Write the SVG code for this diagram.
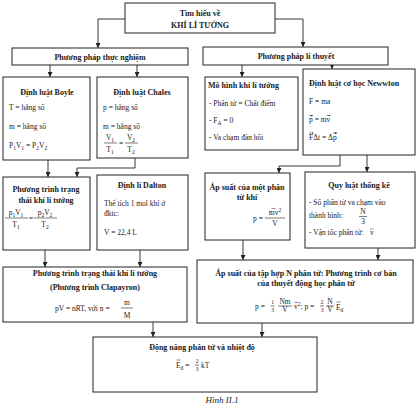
<svg xmlns="http://www.w3.org/2000/svg" width="420" height="407" viewBox="0 0 420 407">
<defs>
<style>
text{font-family:"Liberation Serif","DejaVu Serif",serif;fill:#1a1a1a;font-size:7.5px}
.t{font-weight:bold;font-size:8px}
.c{text-anchor:middle}
.b{fill:#fff;stroke:#222;stroke-width:1}
.cn{fill:none;stroke:#222;stroke-width:0.9}
.bar{stroke:#222;stroke-width:0.6}
.ov{stroke:#222;stroke-width:0.5;fill:none}
.s{font-size:5.5px}
</style>
<marker id="ah" viewBox="0 0 6 6" refX="6" refY="3" markerWidth="5" markerHeight="5" orient="auto" markerUnits="userSpaceOnUse">
<path d="M0,0 L6,3 L0,6 z" fill="#222"/>
</marker>
<marker id="va" viewBox="0 0 4 4" refX="4" refY="2" markerWidth="2" markerHeight="2" orient="auto" markerUnits="userSpaceOnUse">
<path d="M0,0 L4,2 L0,4 z" fill="#222"/>
</marker>
</defs>
<rect width="420" height="407" fill="#fff"/>

<g id="connectors">
<polyline class="cn" points="125,19 98,19 98,48" marker-end="url(#ah)"/>
<polyline class="cn" points="275,19 303,19 303,47" marker-end="url(#ah)"/>
<line class="cn" x1="50" y1="65" x2="50" y2="77" marker-end="url(#ah)"/>
<line class="cn" x1="137" y1="65" x2="137" y2="77" marker-end="url(#ah)"/>
<line class="cn" x1="242" y1="65" x2="242" y2="77" marker-end="url(#ah)"/>
<line class="cn" x1="332" y1="65" x2="332" y2="69" marker-end="url(#ah)"/>
<line class="cn" x1="48" y1="160" x2="48" y2="177" marker-end="url(#ah)"/>
<polyline class="cn" points="135,158 135,168 77,168 77,177" marker-end="url(#ah)"/>
<polyline class="cn" points="340,155 340,166 279,166 279,173" marker-end="url(#ah)"/>
<line class="cn" x1="367" y1="155" x2="367" y2="172" marker-end="url(#ah)"/>
<line class="cn" x1="45" y1="250" x2="45" y2="267" marker-end="url(#ah)"/>
<line class="cn" x1="140" y1="250" x2="140" y2="267" marker-end="url(#ah)"/>
<line class="cn" x1="243" y1="240" x2="243" y2="260" marker-end="url(#ah)"/>
<line class="cn" x1="378" y1="248" x2="378" y2="260" marker-end="url(#ah)"/>
<line class="cn" x1="153" y1="322" x2="153" y2="337" marker-end="url(#ah)"/>
<line class="cn" x1="262" y1="323" x2="262" y2="337" marker-end="url(#ah)"/>
</g>

<g id="title">
<rect class="b" x="125" y="3" width="150" height="30"/>
<text class="t c" x="200" y="16">Tìm hiểu về</text>
<text class="t c" x="200" y="28">KHÍ LÍ TƯỞNG</text>
</g>

<g id="thucnghiem">
<rect class="b" x="12" y="48" width="176" height="17"/>
<text class="t c" x="100" y="59.5">Phương pháp thực nghiệm</text>
</g>

<g id="lithuyet">
<rect class="b" x="203" y="47" width="185" height="18"/>
<text class="t c" x="296" y="59">Phương pháp lí thuyết</text>
</g>

<g id="boyle">
<rect class="b" x="3" y="77" width="87" height="83"/>
<text class="t c" x="47" y="95">Định luật Boyle</text>
<text x="9" y="110">T = hằng số</text>
<text x="9" y="129">m = hằng số</text>
<text x="9" y="148">P<tspan class="s" dy="1.5">1</tspan><tspan dy="-1.5">V</tspan><tspan class="s" dy="1.5">1</tspan><tspan dy="-1.5"> = P</tspan><tspan class="s" dy="1.5">2</tspan><tspan dy="-1.5">V</tspan><tspan class="s" dy="1.5">2</tspan></text>
</g>

<g id="charles">
<rect class="b" x="97" y="77" width="91" height="81"/>
<text class="t c" x="142" y="95">Định luật Chales</text>
<text x="103" y="110">p = hằng số</text>
<text x="103" y="129">m = hằng số</text>
<text class="c" x="110" y="140">V<tspan class="s" dy="1.5">1</tspan></text>
<line class="bar" x1="104" y1="143" x2="117" y2="143"/>
<text class="c" x="110" y="152">T<tspan class="s" dy="1.5">1</tspan></text>
<text class="c" x="121" y="146">=</text>
<text class="c" x="131" y="140">V<tspan class="s" dy="1.5">2</tspan></text>
<line class="bar" x1="125" y1="143" x2="138" y2="143"/>
<text class="c" x="131" y="152">T<tspan class="s" dy="1.5">2</tspan></text>
</g>

<g id="mohinh">
<rect class="b" x="205" y="77" width="93" height="73"/>
<text class="t" x="208" y="88">Mô hình khí lí tưởng</text>
<text x="209" y="106">- Phân tử  = Chất điểm</text>
<text x="209" y="123">- F<tspan class="s" dy="1.5">A</tspan><tspan dy="-1.5"> = 0</tspan></text>
<text x="209" y="140">- Va chạm đàn hồi</text>
</g>

<g id="newton">
<rect class="b" x="303" y="69" width="112" height="86"/>
<text class="t" x="309" y="86">Định luật cơ học Newwton</text>
<text x="309" y="104">F = ma</text>
<text x="309" y="122">p = mv</text>
<line class="ov" x1="309" y1="115.5" x2="313" y2="115.5" marker-end="url(#va)"/>
<line class="ov" x1="326.5" y1="115.5" x2="330.5" y2="115.5" marker-end="url(#va)"/>
<text x="309" y="140">FΔt = Δp</text>
<line class="ov" x1="309" y1="133" x2="313.5" y2="133" marker-end="url(#va)"/>
<line class="ov" x1="332.5" y1="133" x2="337" y2="133" marker-end="url(#va)"/>
</g>

<g id="pttrangthai">
<rect class="b" x="3" y="177" width="87" height="73"/>
<text class="t c" x="46" y="192">Phương trình trạng</text>
<text class="t c" x="46" y="203">thái khí lí tưởng</text>
<text class="c" x="16" y="215">p<tspan class="s" dy="1.5">1</tspan><tspan dy="-1.5">V</tspan><tspan class="s" dy="1.5">1</tspan></text>
<line class="bar" x1="5" y1="218" x2="28" y2="218"/>
<text class="c" x="16" y="227">T<tspan class="s" dy="1.5">1</tspan></text>
<text class="c" x="31" y="221">=</text>
<text class="c" x="45" y="215">p<tspan class="s" dy="1.5">2</tspan><tspan dy="-1.5">V</tspan><tspan class="s" dy="1.5">2</tspan></text>
<line class="bar" x1="34" y1="218" x2="57" y2="218"/>
<text class="c" x="45" y="227">T<tspan class="s" dy="1.5">2</tspan></text>
</g>

<g id="dalton">
<rect class="b" x="97" y="175" width="91" height="75"/>
<text class="t c" x="142" y="188">Định lí Dalton</text>
<text x="104" y="206">Thể tích 1 mol khí ở</text>
<text x="104" y="216">đktc:</text>
<text x="104" y="235">V = 22,4 L</text>
</g>

<g id="apsuat1">
<rect class="b" x="205" y="173" width="85" height="67"/>
<text class="t c" x="247" y="190">Áp suất của một phân</text>
<text class="t c" x="247" y="200">tử khí</text>
<text x="253" y="221">p =</text>
<text class="c" x="275" y="215">mv<tspan class="s" dy="-3">2</tspan></text>
<line class="ov" x1="271.5" y1="208.5" x2="275.5" y2="208.5"/>
<line class="bar" x1="265" y1="218" x2="285" y2="218"/>
<text class="c" x="275" y="226">V</text>
</g>

<g id="quyluat">
<rect class="b" x="305" y="172" width="110" height="76"/>
<text class="t c" x="359" y="188">Quy luật thống kê</text>
<text x="309" y="205">- Số phân tử va chạm vào</text>
<text x="309" y="218">thành bình:</text>
<text class="c" x="363" y="214">N</text>
<line class="bar" x1="359" y1="216.5" x2="367" y2="216.5"/>
<text class="c" x="363" y="224">3</text>
<text x="309" y="235">- Vận tốc phân tử:</text>
<text x="370" y="235">v</text>
<line class="ov" x1="370.3" y1="229" x2="373.7" y2="229"/>
</g>

<g id="clapayron">
<rect class="b" x="3" y="267" width="184" height="55"/>
<text class="t c" x="95" y="276">Phương trình trạng thái khí lí tưởng</text>
<text class="t c" x="95" y="290">(Phương trình Clapayron)</text>
<text x="55" y="311">pV = nRT, với  n =</text>
<text class="c" x="127" y="305">m</text>
<line class="bar" x1="121" y1="308" x2="133" y2="308"/>
<text class="c" x="127" y="318">M</text>
</g>

<g id="taphop">
<rect class="b" x="197" y="260" width="216" height="63"/>
<text class="t c" x="306" y="276">Áp suất của tập hợp N phân tử: Phương trình cơ bản</text>
<text class="t c" x="306" y="286">của thuyết động học phân tử</text>
<text x="255" y="309">p =</text>
<text class="c s" x="272.5" y="304">1</text>
<line class="bar" x1="270.5" y1="306" x2="274.5" y2="306"/>
<text class="c s" x="272.5" y="311.5">3</text>
<text class="c" x="285" y="304">Nm</text>
<line class="bar" x1="278" y1="306" x2="292" y2="306"/>
<text class="c" x="285" y="312">V</text>
<text x="294" y="309">v<tspan class="s" dy="-3">2</tspan><tspan dy="3">; p =</tspan></text>
<line class="ov" x1="294.5" y1="302.5" x2="298" y2="302.5"/>
<text class="c s" x="322" y="304">2</text>
<line class="bar" x1="320" y1="306" x2="324" y2="306"/>
<text class="c s" x="322" y="311.5">3</text>
<text class="c" x="330" y="304">N</text>
<line class="bar" x1="326" y1="306" x2="334" y2="306"/>
<text class="c" x="330" y="312">V</text>
<text x="336" y="310">E<tspan class="s" dy="1.5">đ</tspan></text>
<line class="ov" x1="336.5" y1="302" x2="340.5" y2="302"/>
</g>

<g id="dongnang">
<rect class="b" x="93" y="337" width="224" height="55"/>
<text class="t c" x="202" y="350">Động năng phân tử và nhiệt độ</text>
<text x="176" y="368">E<tspan class="s" dy="1.5">đ</tspan><tspan dy="-1.5"> =</tspan></text>
<line class="ov" x1="176.5" y1="360" x2="180.5" y2="360"/>
<text class="c s" x="197" y="363">2</text>
<line class="bar" x1="195" y1="365" x2="199" y2="365"/>
<text class="c s" x="197" y="370.5">3</text>
<text x="201" y="368">kT</text>
</g>

<text x="222" y="403" class="c" style="font-style:italic;font-size:9px">Hình II.1</text>
</svg>
